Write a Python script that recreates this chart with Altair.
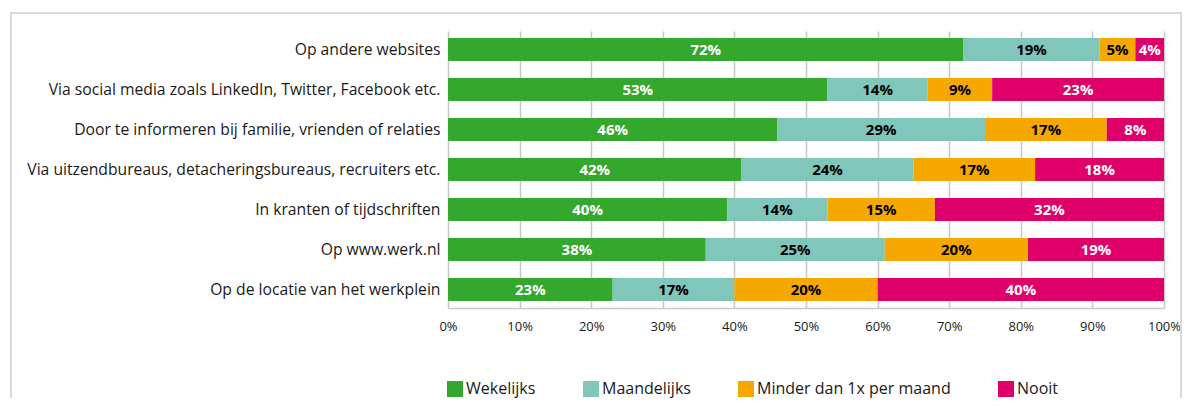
import altair as alt
import pandas as pd

categories = [
    "Op andere websites",
    "Via social media zoals LinkedIn, Twitter, Facebook etc.",
    "Door te informeren bij familie, vrienden of relaties",
    "Via uitzendbureaus, detacheringsbureaus, recruiters etc.",
    "In kranten of tijdschriften",
    "Op www.werk.nl",
    "Op de locatie van het werkplein",
]
series = ["Wekelijks", "Maandelijks", "Minder dan 1x per maand", "Nooit"]
colors = ["#33a82d", "#80c6ba", "#f7a800", "#e0006a"]

# bar widths (percent)
wekelijks = [72, 53, 46, 41, 39, 36, 23]
maandelijks = [19, 14, 29, 24, 14, 25, 17]
minder = [5, 9, 17, 17, 15, 20, 20]
nooit = [4, 24, 8, 18, 32, 19, 40]

# printed labels (percent)
lab_wekelijks = [72, 53, 46, 42, 40, 38, 23]
lab_maandelijks = [19, 14, 29, 24, 14, 25, 17]
lab_minder = [5, 9, 17, 17, 15, 20, 20]
lab_nooit = [4, 23, 8, 18, 32, 19, 40]

x_ticks = [0, 10, 20, 30, 40, 50, 60, 70, 80, 90, 100]

rows = []
for s_i, (s, vals, labs) in enumerate(zip(
        series,
        [wekelijks, maandelijks, minder, nooit],
        [lab_wekelijks, lab_maandelijks, lab_minder, lab_nooit])):
    for c, v, l in zip(categories, vals, labs):
        rows.append({"category": c, "series": s, "value": v,
                     "label": f"{l}%", "order": s_i})
df = pd.DataFrame(rows)

FONT = "Open Sans"

base = alt.Chart(df).transform_stack(
    stack="value", groupby=["category"], sort=[alt.SortField("order")],
    as_=["x0", "x1"]
).transform_calculate(mid="(datum.x0 + datum.x1) / 2")

y_enc = alt.Y("category:N", sort=categories, title=None,
              scale=alt.Scale(paddingInner=0.425, paddingOuter=0.175),
              axis=alt.Axis(labelFontSize=15.7, labelPadding=8, ticks=False,
                            domain=False, labelColor="#1a1a1a", labelFont=FONT,
                            labelLimit=500))

bars = base.mark_bar().encode(
    x=alt.X("x0:Q", title=None,
            scale=alt.Scale(domain=[0, 100], nice=False),
            axis=alt.Axis(values=x_ticks, labelExpr="datum.value + '%'",
                          grid=True, gridColor="#c8c8c8", gridWidth=1.5,
                          domain=True, domainColor="#c8c8c8", domainWidth=1.5,
                          ticks=False, labelFontSize=13, labelPadding=12,
                          labelFlush=False,
                          labelColor="#1a1a1a", labelFont=FONT)),
    x2="x1:Q",
    y=y_enc,
    color=alt.Color("series:N", sort=series,
                    scale=alt.Scale(domain=series, range=colors),
                    legend=alt.Legend(orient="none", legendX=-1, legendY=350,
                                      direction="horizontal", title=None,
                                      symbolType="square", symbolSize=256,
                                      symbolStrokeWidth=0, symbolOpacity=1,
                                      labelFontSize=16, labelOffset=3,
                                      labelLimit=400,
                                      labelFont=FONT, labelColor="#1a1a1a",
                                      columnPadding=47, padding=0)),
    order=alt.Order("order:Q"),
)

texts = base.mark_text(fontWeight="bold", fontSize=15, font=FONT).encode(
    x=alt.X("mid:Q"),
    y=alt.Y("category:N", sort=categories),
    text="label:N",
    color=alt.condition(
        "datum.series == 'Wekelijks' || datum.series == 'Nooit'",
        alt.value("white"), alt.value("black")),
)

frame = alt.Chart(pd.DataFrame({"a": [0]})).mark_rect(
    fill=None, stroke="#d9d9d9", strokeWidth=2
).encode(x=alt.value(-437), x2=alt.value(733), y=alt.value(-18),
         y2=alt.value(430))

chart = alt.layer(frame, bars, texts).properties(
    width=716, height=277,
    autosize=alt.AutoSizeParams(type="none"),
    padding={"left": 440, "top": 23, "right": 19, "bottom": 90},
).configure_view(stroke=None)

chart.save("out.html", embed_options={"renderer": "svg", "actions": False})
